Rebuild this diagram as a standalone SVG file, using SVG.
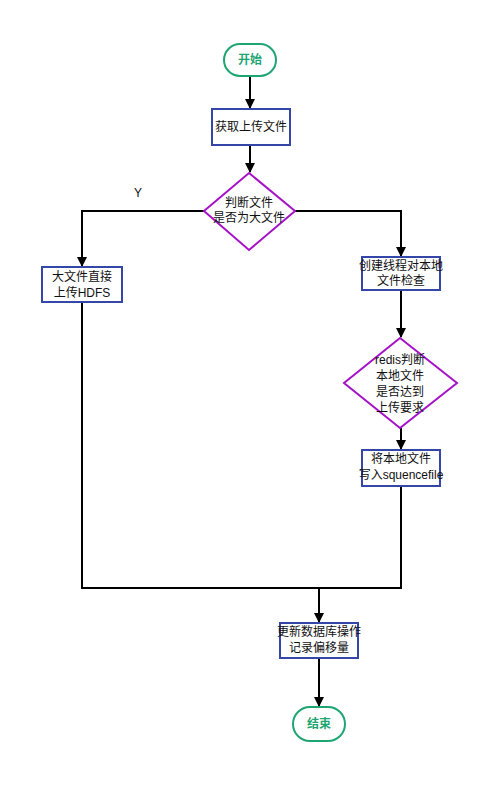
<svg xmlns="http://www.w3.org/2000/svg" width="500" height="785" viewBox="0 0 500 785">
<style>
.term{fill:#fff;stroke:#1ea672;stroke-width:2}
.tt{fill:#1ea672;font-family:"Noto Sans CJK SC","Liberation Sans",sans-serif;font-size:12px;font-weight:bold;text-anchor:middle}
.proc{fill:#fff;stroke:#3447a8;stroke-width:2}
.dec{fill:#fff;stroke:#a612c8;stroke-width:2}
.t{fill:#111;font-family:"Liberation Sans","Noto Sans CJK SC",sans-serif;font-size:12px;text-anchor:middle}
.ln{fill:none;stroke:#000;stroke-width:2}
</style>
<defs>
<marker id="ah" markerWidth="10" markerHeight="10" refX="9" refY="5" orient="auto" markerUnits="userSpaceOnUse">
<path d="M0,0 L10,5 L0,10 Z" fill="#000"/>
</marker>
</defs>
<rect width="500" height="785" fill="#fff"/>
<g id="connectors">
<path class="ln" d="M250,77 V108" marker-end="url(#ah)"/>
<path class="ln" d="M250,145 V172" marker-end="url(#ah)"/>
<path class="ln" d="M204,211 H82 V266" marker-end="url(#ah)"/>
<path class="ln" d="M295,211 H401 V256" marker-end="url(#ah)"/>
<path class="ln" d="M401,290 V337" marker-end="url(#ah)"/>
<path class="ln" d="M401,428 V449" marker-end="url(#ah)"/>
<path class="ln" d="M82,302 V588 H401 V486"/>
<path class="ln" d="M319,588 V622" marker-end="url(#ah)"/>
<path class="ln" d="M319,658 V706" marker-end="url(#ah)"/>
<text class="t" x="138" y="197">Y</text>
</g>
<g id="start">
<rect class="term" x="224" y="44" width="52" height="32" rx="16"/>
<text class="tt" x="250" y="64">开始</text>
</g>
<g id="get">
<rect class="proc" x="212" y="109" width="78" height="36"/>
<text class="t" x="251" y="131">获取上传文件</text>
</g>
<g id="judge">
<polygon class="dec" points="249,173 295,211 249,250 204,211"/>
<text class="t" x="249" y="207">判断文件</text>
<text class="t" x="249" y="222">是否为大文件</text>
</g>
<g id="bigfile">
<rect class="proc" x="42" y="267" width="80" height="35"/>
<text class="t" x="82" y="281">大文件直接</text>
<text class="t" x="82" y="297">上传HDFS</text>
</g>
<g id="thread">
<rect class="proc" x="362" y="257" width="78" height="33"/>
<text class="t" x="401" y="270">创建线程对本地</text>
<text class="t" x="401" y="285">文件检查</text>
</g>
<g id="redis">
<polygon class="dec" points="400,338 457,383 400,428 344,383"/>
<text class="t" x="400" y="364">redis判断</text>
<text class="t" x="400" y="380">本地文件</text>
<text class="t" x="400" y="396">是否达到</text>
<text class="t" x="400" y="412">上传要求</text>
</g>
<g id="write">
<rect class="proc" x="362" y="450" width="78" height="36"/>
<text class="t" x="401" y="463">将本地文件</text>
<text class="t" x="401" y="479">写入squencefile</text>
</g>
<g id="update">
<rect class="proc" x="280" y="623" width="78" height="35"/>
<text class="t" x="319" y="636">更新数据库操作</text>
<text class="t" x="319" y="652">记录偏移量</text>
</g>
<g id="end">
<rect class="term" x="293" y="707" width="52" height="34" rx="17"/>
<text class="tt" x="319" y="728">结束</text>
</g>
</svg>
